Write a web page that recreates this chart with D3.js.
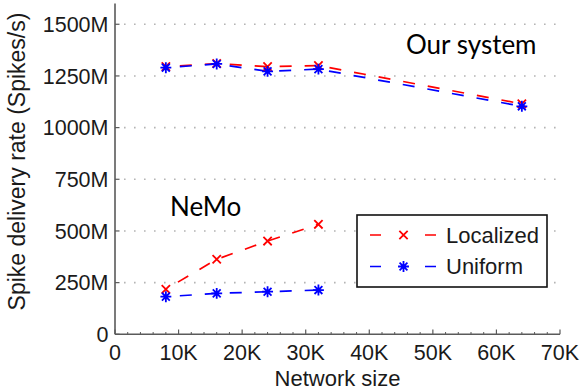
<!DOCTYPE html>
<html><head><meta charset="utf-8">
<script src="https://cdn.jsdelivr.net/npm/d3@7"></script>
<style>body{margin:0;background:#fff}svg{display:block}</style>
</head><body>
<svg id="c" width="582" height="392"></svg>
<script>
const networkSize = [8000, 16000, 24000, 32000, 64000];
const oursLocalized = [1295, 1310, 1295, 1300, 1115];
const oursUniform = [1290, 1308, 1272, 1283, 1103];
const nemoSize = [8000, 16000, 24000, 32000];
const nemoLocalized = [218, 363, 451, 532];
const nemoUniform = [182, 198, 206, 214];
const xTicks = [0, 10000, 20000, 30000, 40000, 50000, 60000, 70000];
const yTicks = [0, 250, 500, 750, 1000, 1250, 1500];
const seriesNames = ["Localized", "Uniform"];
const colors = {Localized: "#ff0000", Uniform: "#0000ff"};

const svg = d3.select("#c");
const x = d3.scaleLinear().domain([0, 70000]).range([115, 560]);
const y = d3.scaleLinear().domain([0, 1600]).range([334.3, 3.6]);
const axisFont = "'Liberation Sans', Arial, sans-serif";

// grid (dotted horizontal)
svg.append("g").selectAll("line").data(yTicks.filter(d => d > 0)).join("line")
  .attr("x1", 124).attr("x2", 560)
  .attr("y1", d => y(d)).attr("y2", d => y(d))
  .attr("stroke", "#b4b4b4").attr("stroke-width", 1.6)
  .attr("stroke-dasharray", "1.6,8.4");

// series
const series = [
  {name: "Localized", xs: networkSize, ys: oursLocalized},
  {name: "Localized", xs: nemoSize, ys: nemoLocalized},
  {name: "Uniform", xs: networkSize, ys: oursUniform},
  {name: "Uniform", xs: nemoSize, ys: nemoUniform}
];
const line = d3.line().x(d => x(d[0])).y(d => y(d[1]));

function drawMarker(g, name, cx, cy) {
  const c = colors[name];
  const r = 5.2;
  const m = g.append("g").attr("transform", `translate(${cx},${cy})`)
    .attr("stroke", c).attr("stroke-width", 1.8).attr("fill", "none");
  if (name === "Localized") {
    m.append("path").attr("d", `M${-r*0.8},${-r*0.8}L${r*0.8},${r*0.8}M${-r*0.8},${r*0.8}L${r*0.8},${-r*0.8}`);
  } else {
    const s = r * 1.05;
    m.append("path").attr("d", `M${-s},0L${s},0M0,${-s}L0,${s}M${-s*0.72},${-s*0.72}L${s*0.72},${s*0.72}M${-s*0.72},${s*0.72}L${s*0.72},${-s*0.72}`);
  }
}

const sg = svg.append("g");
series.forEach(s => {
  const pts = s.xs.map((v, i) => [v, s.ys[i]]);
  sg.append("path").attr("d", line(pts))
    .attr("fill", "none").attr("stroke", colors[s.name])
    .attr("stroke-width", 1.7).attr("stroke-dasharray", "12,13")
    .attr("stroke-dashoffset", -14);
});
series.forEach(s => {
  s.xs.forEach((v, i) => drawMarker(sg, s.name, x(v), y(s.ys[i])));
});

// axes
const axisColor = "#5a5a5a";
svg.append("line").attr("x1", 115).attr("x2", 115).attr("y1", 3.6).attr("y2", 334.3)
  .attr("stroke", axisColor).attr("stroke-width", 1.6);
svg.append("line").attr("x1", 115).attr("x2", 560).attr("y1", 334.3).attr("y2", 334.3)
  .attr("stroke", axisColor).attr("stroke-width", 1.6);
svg.append("g").selectAll("line").data(xTicks).join("line")
  .attr("x1", d => x(d)).attr("x2", d => x(d)).attr("y1", 334.3).attr("y2", 329.5)
  .attr("stroke", axisColor).attr("stroke-width", 1.2);
const minor = d3.range(2000, 70000, 2000).filter(d => d % 10000 !== 0);
svg.append("g").selectAll("line").data(minor).join("line")
  .attr("x1", d => x(d)).attr("x2", d => x(d)).attr("y1", 334.3).attr("y2", 332)
  .attr("stroke", axisColor).attr("stroke-width", 1);
svg.append("g").selectAll("line").data(yTicks).join("line")
  .attr("x1", 115).attr("x2", 119.5).attr("y1", d => y(d)).attr("y2", d => y(d))
  .attr("stroke", axisColor).attr("stroke-width", 1.2);

// tick labels
svg.append("g").selectAll("text").data(xTicks).join("text")
  .attr("x", d => x(d)).attr("y", 360).attr("text-anchor", "middle")
  .attr("font-family", axisFont).attr("font-size", 21.5).attr("fill", "#1a1a1a")
  .text(d => d === 0 ? "0" : (d / 1000) + "K");
svg.append("g").selectAll("text").data(yTicks).join("text")
  .attr("x", 108.5).attr("y", d => y(d) + 7.7).attr("text-anchor", "end")
  .attr("font-family", axisFont).attr("font-size", 21.5).attr("fill", "#1a1a1a")
  .text(d => d === 0 ? "0" : d + "M");

// axis titles
svg.append("text").attr("x", 337.5).attr("y", 386).attr("text-anchor", "middle")
  .attr("font-family", axisFont).attr("font-size", 22).attr("fill", "#1a1a1a")
  .text("Network size");
svg.append("text").attr("transform", "translate(25,161.5) rotate(-90)").attr("text-anchor", "middle")
  .attr("font-family", axisFont).attr("font-size", 23).attr("fill", "#1a1a1a")
  .text("Spike delivery rate (Spikes/s)");

// annotations
const annFont = "Lato, 'Open Sans', sans-serif";
svg.append("text").attr("x", 406).attr("y", 53.5).attr("font-family", annFont)
  .attr("font-size", 26).attr("fill", "#000").text("Our system");
svg.append("text").attr("x", 170).attr("y", 216).attr("font-family", annFont)
  .attr("font-size", 26).attr("fill", "#000").text("NeMo");

// legend
const lg = svg.append("g");
lg.append("rect").attr("x", 357).attr("y", 215).attr("width", 190).attr("height", 72)
  .attr("fill", "#fff").attr("stroke", "#111").attr("stroke-width", 1.6);
seriesNames.forEach((n, i) => {
  const cy = 235 + i * 31.5;
  lg.append("line").attr("x1", 370).attr("x2", 437).attr("y1", cy).attr("y2", cy)
    .attr("stroke", colors[n]).attr("stroke-width", 1.5).attr("stroke-dasharray", "11,44");
  drawMarker(lg, n, 403.5, cy);
  lg.append("text").attr("x", 446).attr("y", cy + 7.7)
    .attr("font-family", axisFont).attr("font-size", 22).attr("fill", "#1a1a1a").text(n);
});
</script>
</body></html>
